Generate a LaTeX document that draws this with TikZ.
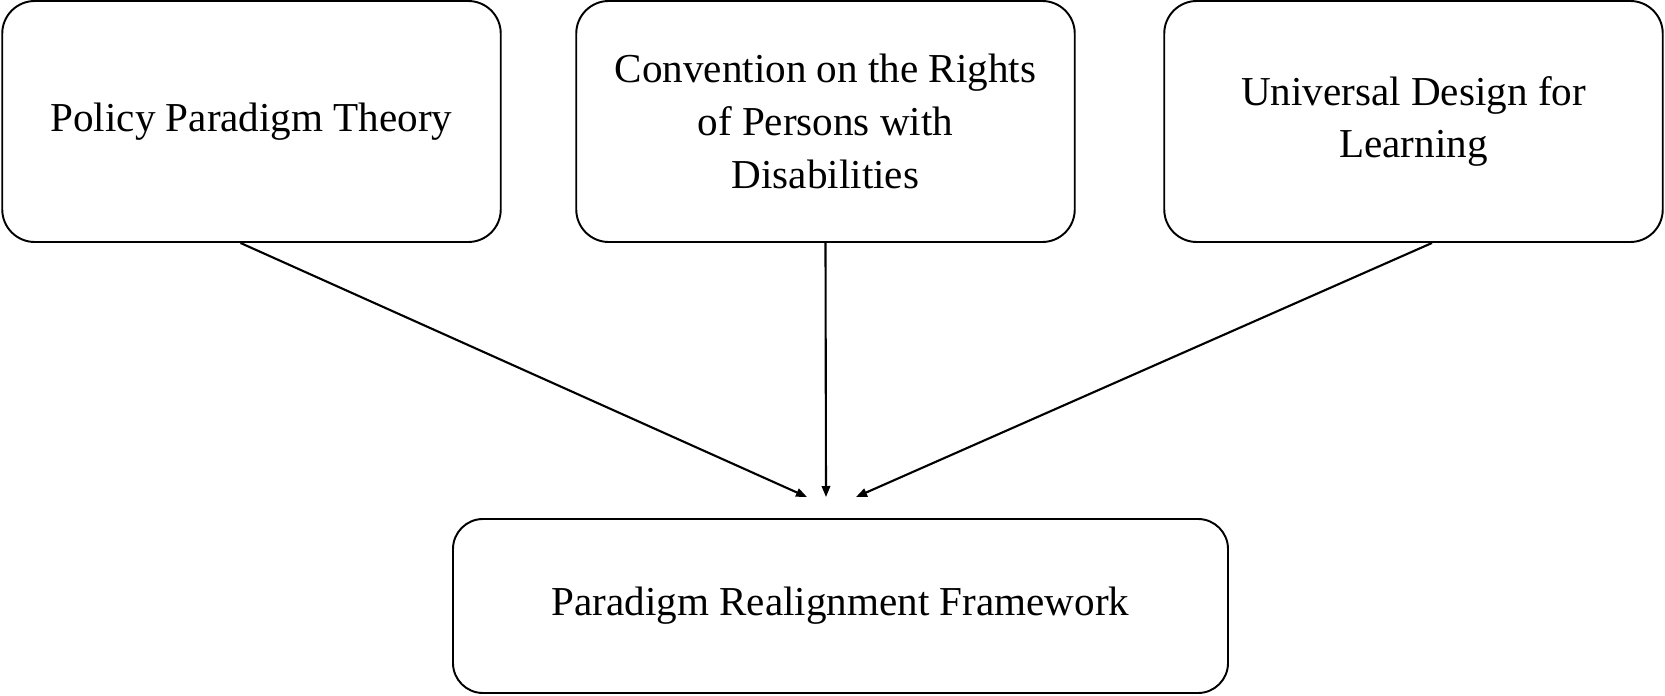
\documentclass[tikz,border=0pt]{standalone}
\usepackage{fontspec}
\setmainfont{Liberation Serif}
\usetikzlibrary{arrows.meta}
\begin{document}
\begin{tikzpicture}[
  theory/.style={draw, line width=1.1pt, rounded corners=0.65cm, align=center,
    minimum width=9.97cm, minimum height=4.82cm, inner sep=0pt,
    font=\fontsize{23.4}{30}\selectfont},
  frame/.style={draw, line width=1.1pt, rounded corners=0.6cm, align=center,
    minimum width=15.5cm, minimum height=3.48cm, inner sep=0pt,
    font=\fontsize{23.4}{30}\selectfont},
  feed/.style={line width=1.2pt, -{Triangle[length=2.2mm,width=1.7mm]}}]
\useasboundingbox (0,0) rectangle (33.3,13.9);
\node [theory] (ppt) at (5.03,11.47) {Policy Paradigm Theory};
\node [theory] (crpd) at (16.51,11.47) {Convention on the Rights\\of Persons with\\Disabilities};
\node [theory] (udl) at (28.27,11.47) {Universal Design for\\Learning};
\node [frame] (prf) at (16.81,1.78) {Paradigm Realignment Framework};
\coordinate (in1) at (16.14,3.96);
\coordinate (in2) at (16.52,3.96);
\coordinate (in3) at (17.12,3.96);
\draw [feed] ([xshift=-2.2mm]ppt.south) -- (in1);
\draw [feed] (crpd.south) -- (in2);
\draw [feed] ([xshift=3.7mm]udl.south) -- (in3);
\end{tikzpicture}
\end{document}
